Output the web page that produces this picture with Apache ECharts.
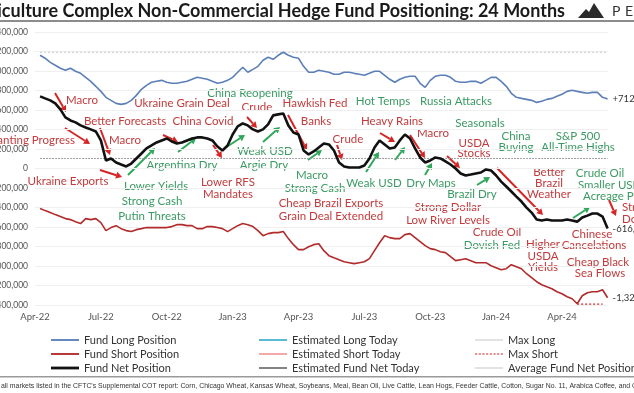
<!DOCTYPE html>
<html><head><meta charset="utf-8">
<script src="https://cdn.jsdelivr.net/npm/echarts@6/dist/echarts.min.js"></script>
<style>html,body{margin:0;padding:0;background:#fff}#c{width:634px;height:393px}</style>
</head><body><div id="c"></div>
<script>
// x-axis quarter tick labels (every 13 weeks)
const tickLabels = ['Apr-22','Jul-22','Oct-22','Jan-23','Apr-23','Jul-23','Oct-23','Jan-24','Apr-24'];
// weekly categories starting 2022-04-05
const weeks = [];
(function(){ const d0 = new Date(Date.UTC(2022,3,5)); for (let i=0;i<114;i++){ const d=new Date(d0.getTime()+i*7*864e5); weeks.push(d.toISOString().slice(0,10)); } })();

// values in thousands of contracts
const fundLong = [null,1161,1131,1089,1059,1028,1007,1028,997,976,935,894,843,791,730,699,668,658,668,699,750,812,853,884,894,904,884,874,874,884,894,915,935,925,915,894,874,884,904,935,987,1038,987,1017,1048,1110,1141,1120,1161,1192,1161,1141,1131,1048,987,987,1007,997,987,966,966,987,987,976,966,956,976,997,997,956,915,884,915,935,946,946,874,832,904,946,956,956,935,894,884,884,894,894,874,904,935,935,894,843,771,730,719,709,699,678,689,709,719,740,761,791,802,791,781,771,781,781,730,712];
const fundShort = [null,-411,-432,-452,-473,-493,-514,-524,-545,-565,-514,-524,-514,-555,-637,-606,-586,-617,-637,-647,-627,-617,-606,-606,-606,-606,-606,-596,-576,-576,-586,-586,-617,-617,-596,-596,-606,-617,-647,-617,-586,-565,-576,-596,-637,-689,-668,-658,-658,-647,-719,-781,-832,-832,-802,-781,-771,-843,-894,-915,-935,-956,-966,-976,-966,-956,-925,-843,-761,-689,-709,-719,-719,-678,-668,-709,-750,-791,-822,-832,-853,-863,-904,-945,-935,-925,-945,-966,-966,-966,-997,-1017,-1038,-1028,-987,-1007,-1028,-1079,-1120,-1161,-1192,-1213,-1233,-1264,-1285,-1315,-1336,-1387,-1305,-1274,-1264,-1264,-1244,-1326];
const fundNet = [null,740,719,699,668,606,524,493,473,442,421,401,380,288,82,103,62,41,21,51,103,154,206,236,267,288,308,277,257,267,288,308,319,319,308,288,226,185,236,349,432,462,442,401,380,401,452,545,555,565,442,370,349,185,144,175,216,257,247,185,62,21,10,10,10,31,103,216,288,247,206,216,288,349,308,206,113,62,82,113,103,72,41,0,-51,-72,-62,-51,-41,-10,-21,-72,-134,-185,-236,-288,-339,-401,-452,-524,-534,-524,-534,-534,-534,-524,-534,-545,-503,-483,-462,-462,-493,-616];
const maxLongValue = 1192;
const maxShortValue = -1390;
const avgNetValue = 103;
const maxShortWeeks = [107,108,109,110,111,112];

const maxLong = weeks.map((w,i)=> i>=1 ? maxLongValue : null);
const avgNet = weeks.map((w,i)=> i>=1 ? avgNetValue : null);
const maxShort = weeks.map((w,i)=> maxShortWeeks.includes(i) ? maxShortValue : null);

const RED_T = '#c23a3c', GREEN_T = '#3b9a63', RED_A = '#d42626', GREEN_A = '#2fa65a';
const FONT = '11.5px Lato';
// annotations: [text, x, y, color, align]
const notes = [
 ['Macro',82,100,'r'],['Planting Progress',75,140,'r','right'],['Better Forecasts',125,121,'r'],['Macro',125,140,'r'],
 ['Ukraine Exports',68,181,'r'],['Ukraine Grain Deal',182,103,'r'],['China Covid',203,121,'r'],
 ['Lower RFS',228,182,'r'],['Mandates',228,194,'r'],['Crude',257,107,'r'],['Hawkish Fed',315,103,'r'],['Banks',316,121,'r'],
 ['Crude',348,139,'r'],['Heavy Rains',392,121,'r'],['Macro',433,133,'r'],['USDA',474,143,'r'],['Stocks',474,153,'r'],
 ['Cheap Brazil Exports',331,203,'r'],['Grain Deal Extended',331,216,'r'],['Strong Dollar',448,207,'r'],['Low River Levels',448,220,'r'],
 ['Crude Oil',497,232,'r'],['Better',549,172,'r'],['Brazil',549,183,'r'],['Weather',549,194,'r'],
 ['Higher',543,244,'r'],['USDA',543,256,'r'],['Yields',543,267,'r'],['Chinese',592,234,'r'],['Cancelations',594,245,'r'],
 ['Cheap Black',598,262,'r'],['Sea Flows',600,273,'r'],['Strong',622,207,'r','left'],['Dollar',622,219,'r','left'],
 ['Lower Yields',156,186,'g'],['Strong Cash',152,201,'g'],['Putin Threats',152,216,'g'],['Argentina Dry',182,165,'g'],
 ['China Reopening',250,93,'g'],['Weak USD',265,151,'g'],['Argie Dry',264,165,'g'],['Macro',312,175,'g'],['Strong Cash',315,188,'g'],
 ['Weak USD',374,183,'g'],['Dry Maps',431,183,'g'],['Brazil Dry',472,194,'g'],['Hot Temps',383,101,'g'],['Russia Attacks',456,101,'g'],
 ['Seasonals',480,123,'g'],['China',516,136,'g'],['Buying',516,147,'g'],['S&P 500',578,136,'g'],['All-Time Highs',578,147,'g'],
 ['Crude Oil',600,173,'g'],['Smaller USDA',578,185,'g','left'],['Acreage Pivot',583,196,'g','left'],['Dovish Fed',492,245,'g']
];
const arrows = [
 [55,93,66,112,'r'],[65,128,90,144,'r'],[100,128,110,155,'r'],[100,170,122,177,'r'],[163,135,178,142,'r'],[213,145,222,158,'r'],
 [247,117,257,128,'r'],[288,115,307,150,'r'],[337,145,342,160,'r'],[380,133,395,142,'r'],[410,135,425,158,'r'],[447,156,460,168,'r'],
 [497,168,543,215,'r'],[609,200,616,216,'r'],
 [128,175,155,148,'g'],[178,152,196,138,'g'],[225,148,245,135,'g'],[263,142,280,127,'g'],[308,160,322,150,'g'],[366,172,379,152,'g'],
 [395,160,405,147,'g'],[425,175,432,163,'g'],[477,185,490,177,'g'],[573,218,590,207,'g']
];

function arrowEls(a){
  const [x1,y1,x2,y2,c]=a; const col = c==='r'?RED_A:GREEN_A;
  const ang=Math.atan2(y2-y1,x2-x1), L=6, W=3.5;
  const bx=x2-L*Math.cos(ang), by=y2-L*Math.sin(ang), px=-Math.sin(ang)*W, py=Math.cos(ang)*W;
  return [{type:'line',silent:true,shape:{x1,y1,x2:bx,y2:by},style:{stroke:col,lineWidth:2}},
          {type:'polygon',silent:true,shape:{points:[[x2,y2],[bx+px,by+py],[bx-px,by-py]]},style:{fill:col}}];
}
const graphics = [];
graphics.push({type:'text',x:565,y:11,style:{text:'Agriculture Complex Non-Commercial Hedge Fund Positioning: 24 Months',font:'bold 18px Lato',fill:'#1a1a1a',textAlign:'right',textVerticalAlign:'middle'}});
graphics.push({type:'rect',shape:{x:0,y:20,width:634,height:2},style:{fill:'#8c8c8c'}});
graphics.push({type:'polygon',shape:{points:[[578,18],[586,9],[589,12],[594,3],[604,18]]},style:{fill:'#2b2b2b'}});
graphics.push({type:'text',x:612,y:11,style:{text:'P',font:'14px Lato',fill:'#333',textAlign:'left',textVerticalAlign:'middle'}});
graphics.push({type:'text',x:625,y:11,style:{text:'E',font:'14px Lato',fill:'#333',textAlign:'left',textVerticalAlign:'middle'}});
graphics.push({type:'rect',shape:{x:0,y:376,width:634,height:1.5},style:{fill:'#9a9a9a'}});
graphics.push({type:'text',x:1,y:386,style:{text:"all markets listed in the CFTC's Supplemental COT report: Corn, Chicago Wheat, Kansas Wheat, Soybeans, Meal, Bean Oil, Live Cattle, Lean Hogs, Feeder Cattle, Cotton, Sugar No. 11, Arabica Coffee, and Cocoa.",font:'6.9px "Liberation Sans"',fill:'#333',textAlign:'left',textVerticalAlign:'middle'}});
notes.forEach(n=>{ graphics.push({type:'text',silent:true,x:n[1],y:n[2],style:{text:n[0],font:FONT,fill:n[3]==='r'?RED_T:GREEN_T,textAlign:n[4]||'center',textVerticalAlign:'middle'}}); });
arrows.forEach(a=>arrowEls(a).forEach(e=>graphics.push(e)));

const fmtK = v => { const n=Math.round(v*1000); return n.toLocaleString('en-US'); };
const endLbl = (sign) => ({show:true, distance:5, fontSize:9.5, color:'#333', fontFamily:'Lato', formatter:p=>(sign&&p.value>0?'+':'')+fmtK(p.value)});

// legend icons: thin / thick solid bars and a dashed bar
const THIN = 'path://M0,0H24V1H0Z', THICK = 'path://M0,0H10V1H0Z', MID = 'path://M0,0H15V1H0Z';
let dash = ''; for (let x=0;x<24;x+=3) dash += `M${x},0H${x+1.8}V1H${x}Z`; const DASH = 'path://'+dash;
const legendText = {fontSize:11, color:'#333', fontFamily:'Lato', lineHeight:14};
const lg = (left, items) => ({orient:'vertical',left,top:328,itemWidth:28,itemHeight:10,itemGap:0,textStyle:legendText,data:items});
const chart = echarts.init(document.getElementById('c'), null, {renderer:'canvas'});
chart.setOption({
  animation:false,
  backgroundColor:'#fff',
  grid:{left:35,right:26.4,top:32,bottom:88,containLabel:false,outerBoundsMode:'none'},
  xAxis:{type:'category',data:weeks,boundaryGap:false,
    axisLine:{show:false},axisTick:{show:false},splitLine:{show:false},
    axisLabel:{interval:(i)=> i%13===0 && i<=104, formatter:(v,i)=>tickLabels[i/13], color:'#555', fontSize:9.5, fontFamily:'Lato', margin:7}},
  yAxis:{type:'value',min:-1400,max:1400,interval:200,
    axisLine:{show:false},axisTick:{show:false},
    splitLine:{lineStyle:{color:'#efefef',width:1}},
    axisLabel:{formatter:v=> v===0?'0':fmtK(v), color:'#555', fontSize:8.5, fontFamily:'Lato', margin:7}},
  legend:[
    lg(46,[{name:'Fund Long Position',icon:MID},{name:'Fund Short Position',icon:MID},{name:'Fund Net Position',icon:THICK}]),
    lg(254,[{name:'Estimated Long Today',icon:MID},{name:'Estimated Short Today',icon:MID},{name:'Estimated Fund Net Today',icon:MID}]),
    lg(470,[{name:'Max Long',icon:THIN},{name:'Max Short',icon:DASH},{name:'Average Fund Net Position',icon:THIN}])
  ],
  graphic:graphics,
  series:[
    {name:'Max Long',type:'line',data:maxLong,symbol:'none',lineStyle:{color:'#c8c8c8',width:1,type:[2,2]},itemStyle:{color:'#cfcfcf'},z:1},
    {name:'Average Fund Net Position',type:'line',data:avgNet,symbol:'none',lineStyle:{color:'#9a9a9a',width:1,type:[2,1]},itemStyle:{color:'#cfcfcf'},z:1},
    {name:'Max Short',type:'line',data:maxShort,symbol:'none',lineStyle:{color:'#c62828',width:1.2,type:[2,2]},itemStyle:{color:'#c62828'},z:1},
    {name:'Fund Long Position',type:'line',data:fundLong,symbol:'none',lineStyle:{color:'#5c7fb8',width:1.6},itemStyle:{color:'#5c7fb8'},endLabel:endLbl(true),z:3},
    {name:'Fund Short Position',type:'line',data:fundShort,symbol:'none',lineStyle:{color:'#b22b2b',width:1.6},itemStyle:{color:'#b22b2b'},endLabel:endLbl(false),z:3},
    {name:'Fund Net Position',type:'line',data:fundNet,symbol:'none',lineStyle:{color:'#111',width:2.6},itemStyle:{color:'#111'},endLabel:endLbl(false),z:4},
    {name:'Estimated Long Today',type:'line',data:[],symbol:'none',lineStyle:{color:'#4bb6cf',width:2},itemStyle:{color:'#4bb6cf'}},
    {name:'Estimated Short Today',type:'line',data:[],symbol:'none',lineStyle:{color:'#f4a3a3',width:1.5},itemStyle:{color:'#f4a3a3'}},
    {name:'Estimated Fund Net Today',type:'line',data:[],symbol:'none',lineStyle:{color:'#7a7a7a',width:2.5},itemStyle:{color:'#7a7a7a'}}
  ]
});
</script></body></html>
